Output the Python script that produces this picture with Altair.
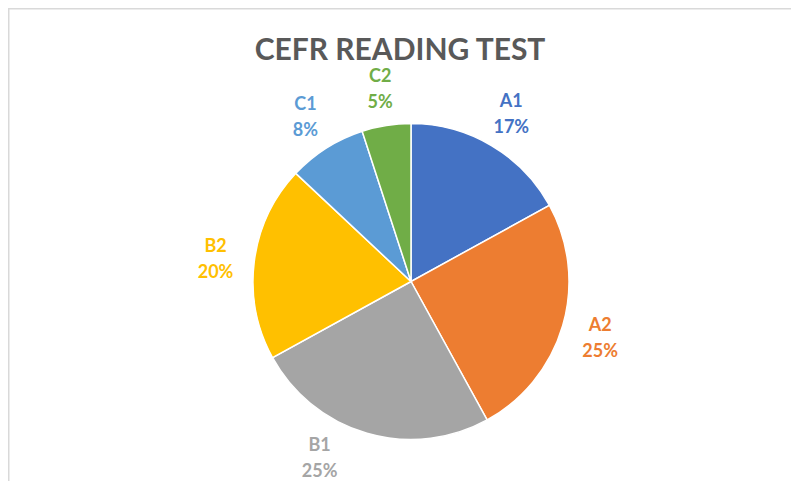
import altair as alt
import pandas as pd

categories = ["A1", "A2", "B1", "B2", "C1", "C2"]
percents = [17, 25, 25, 20, 8, 5]
colors = ["#4472C4", "#ED7D31", "#A5A5A5", "#FFC000", "#5B9BD5", "#70AD47"]
title_text = "CEFR READING TEST"

df = pd.DataFrame({
    "cat": categories,
    "pct": percents,
    "order": list(range(len(categories))),
})
df["lbl"] = [f"{c}\n{p}%" for c, p in zip(categories, percents)]

CX, CY = 403, 273.5
R = 158
LR = 197
YMAX = 448  # lowest label centre the chart area allows
W, H = 783, 473

color = alt.Color("cat:N", scale=alt.Scale(domain=categories, range=colors), legend=None)
base = alt.Chart(df).encode(
    theta=alt.Theta("pct:Q", stack=True),
    order=alt.Order("order:Q"),
    color=color,
)

pie = base.mark_arc(stroke="white", strokeWidth=1.5).encode(
    x=alt.value(CX), y=alt.value(CY), radius=alt.value(R)
)

labels = alt.Chart(df).transform_window(
    cum="sum(pct)", sort=[alt.SortField("order")], frame=[None, 0]
).transform_joinaggregate(
    tot="sum(pct)"
).transform_calculate(
    ang="2*PI*(datum.cum - datum.pct/2)/datum.tot"
).transform_calculate(
    ly0=f"{CY} - {LR}*cos(datum.ang)",
    lx0=f"{CX} + {LR}*sin(datum.ang)",
).transform_calculate(
    ly=f"min(datum.ly0, {YMAX})",
    lx=f"datum.ly0 > {YMAX} ? {CX} + (sin(datum.ang) >= 0 ? 1 : -1)*sqrt({LR}*{LR} - ({YMAX}-{CY})*({YMAX}-{CY})) : datum.lx0",
).mark_text(
    font="Lato", fontWeight="bold", fontSize=18, lineBreak="\n", lineHeight=26,
    align="center", baseline="middle", dy=-10
).encode(
    x=alt.X("lx:Q", scale=None),
    y=alt.Y("ly:Q", scale=None),
    text="lbl:N",
    color=color,
)

title = alt.Chart(pd.DataFrame({"t": [title_text]})).mark_text(
    font="Lato", fontWeight="bold", fontSize=30, color="#595959",
    align="center", baseline="alphabetic"
).encode(x=alt.value(392), y=alt.value(52), text="t:N")

frame_df = pd.DataFrame({"k": [0]})
top_rule = alt.Chart(frame_df).mark_rule(color="#d9d9d9", strokeWidth=2).encode(
    x=alt.value(0), x2=alt.value(W), y=alt.value(0.5)
)
left_rule = alt.Chart(frame_df).mark_rule(color="#d9d9d9", strokeWidth=2).encode(
    x=alt.value(0.5), y=alt.value(0), y2=alt.value(H)
)

chart = alt.layer(top_rule, left_rule, pie, labels, title).properties(
    width=W, height=H, padding=0, autosize=alt.AutoSizeParams(type="none")
).configure_view(stroke=None).configure_axis(grid=False)

chart.save("out.html", embed_options={"renderer": "svg", "actions": False})
